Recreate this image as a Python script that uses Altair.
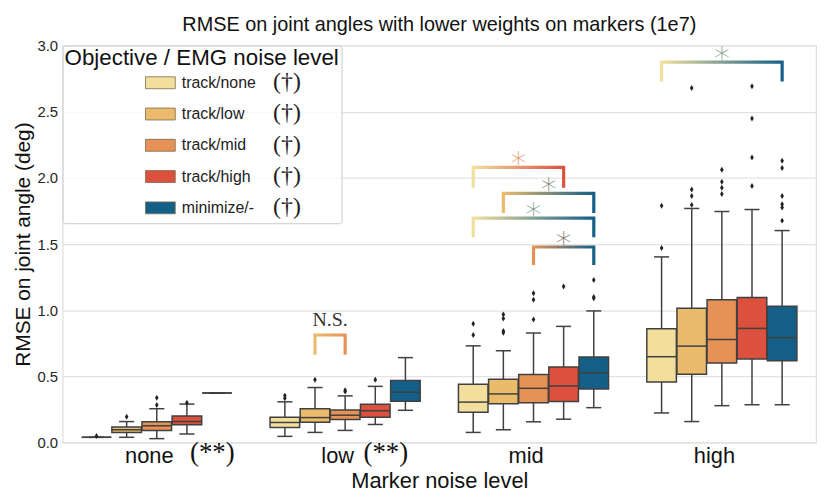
import json
import altair as alt
import pandas as pd

# ---------------- data ----------------
levels = ["none", "low", "mid", "high"]
series = ["track/none", "track/low", "track/mid", "track/high", "minimize/-"]
colors = ["#f2df9d", "#ebbb6c", "#e69256", "#db513d", "#145f88"]

whisker_low = {
    "none": [0.040, 0.040, 0.030, 0.065, 0.375],
    "low":  [0.047, 0.077, 0.092, 0.137, 0.244],
    "mid":  [0.077, 0.097, 0.157, 0.177, 0.264],
    "high": [0.224, 0.159, 0.279, 0.286, 0.286],
}
q1 = {
    "none": [0.040, 0.077, 0.092, 0.134, 0.375],
    "low":  [0.114, 0.154, 0.174, 0.192, 0.313],
    "mid":  [0.229, 0.293, 0.301, 0.311, 0.405],
    "high": [0.458, 0.517, 0.602, 0.632, 0.619],
}
median = {
    "none": [0.040, 0.097, 0.127, 0.159, 0.375],
    "low":  [0.152, 0.189, 0.207, 0.241, 0.381],
    "mid":  [0.306, 0.368, 0.410, 0.428, 0.528],
    "high": [0.649, 0.729, 0.779, 0.863, 0.793],
}
q3 = {
    "none": [0.040, 0.117, 0.157, 0.201, 0.375],
    "low":  [0.192, 0.256, 0.246, 0.289, 0.470],
    "mid":  [0.440, 0.478, 0.515, 0.572, 0.647],
    "high": [0.861, 1.015, 1.080, 1.097, 1.030],
}
whisker_high = {
    "none": [0.040, 0.159, 0.256, 0.291, 0.375],
    "low":  [0.308, 0.416, 0.353, 0.425, 0.642],
    "mid":  [0.731, 0.694, 0.828, 0.878, 0.995],
    "high": [1.403, 1.769, 1.746, 1.761, 1.602],
}
outliers = {
    "none": [[0.050], [0.196], [0.284, 0.338], [0.301], []],
    "low":  [[0.335, 0.355], [0.475], [0.385, 0.396], [0.475], []],
    "mid":  [[0.813, 0.898], [0.830, 0.843, 0.938, 0.968], [0.930, 1.080, 1.129],
             [1.179], [1.090, 1.100, 1.229]],
    "high": [[1.470, 1.789], [1.796, 1.863, 1.913, 2.679], [1.878, 1.925, 1.970, 2.062],
             [1.938, 2.154, 2.448, 2.692], [1.677, 1.776, 1.801, 1.863, 2.075, 2.129]],
}

# significance brackets
br_level = ["mid", "mid", "mid", "mid", "high", "low"]
br_from = ["track/none", "track/low", "track/none", "track/mid", "track/none", "track/low"]
br_to = ["track/high", "minimize/-", "minimize/-", "minimize/-", "minimize/-", "track/mid"]
br_top = [2.080, 1.883, 1.696, 1.478, 2.875, 0.813]
br_foot = [1.925, 1.734, 1.552, 1.341, 2.729, 0.664]
br_label = ["*", "*", "*", "*", "*", "N.S."]

star_level = ["none", "low"]
star_text = ["(**)", "(**)"]

dagger_text = "(†)"

title_text = "RMSE on joint angles with lower weights on markers (1e7)"
x_title = "Marker noise level"
y_title = "RMSE on joint angle (deg)"
legend_title = "Objective / EMG noise level"

# ---------------- layout helpers ----------------
GROUP = 0.8
SLOT = GROUP / len(series)


def xpos(level, s):
    return levels.index(level) + (series.index(s) - (len(series) - 1) / 2) * SLOT


rows = []
orows = []
for lev in levels:
    for j, s in enumerate(series):
        p = xpos(lev, s)
        rows.append(dict(level=lev, series=s, dag=s, pos=p,
                         lo=whisker_low[lev][j], q1=q1[lev][j], med=median[lev][j],
                         q3=q3[lev][j], hi=whisker_high[lev][j]))
        for v in outliers[lev][j]:
            orows.append(dict(level=lev, series=s, pos=p, val=v))
stats = pd.DataFrame(rows)
outl = pd.DataFrame(orows)


def hex2rgb(h):
    h = h.lstrip("#")
    return tuple(int(h[i:i + 2], 16) for i in (0, 2, 4))


def mix(a, b):
    ra, rb = hex2rgb(a), hex2rgb(b)
    return "#" + "".join(f"{(x + y) // 2:02x}" for x, y in zip(ra, rb))


br_rows = []
br_txt = []
for k in range(len(br_level)):
    x0 = xpos(br_level[k], br_from[k])
    x1 = xpos(br_level[k], br_to[k])
    for o, (xx, yy) in enumerate([(x0, br_foot[k]), (x0, br_top[k]), (x1, br_top[k]), (x1, br_foot[k])]):
        br_rows.append(dict(bid=k, order=o, pos=xx, val=yy))
    c0 = colors[series.index(br_from[k])]
    c1 = colors[series.index(br_to[k])]
    br_txt.append(dict(bid=k, pos=(x0 + x1) / 2, val=br_top[k], label=br_label[k],
                       tcolor=mix(c0, c1) if br_label[k] == "*" else "#333333"))
br_df = pd.DataFrame(br_rows)
br_txt_df = pd.DataFrame(br_txt)

star_df = pd.DataFrame(dict(level=star_level, text=star_text,
                            pos=[levels.index(l) for l in star_level], val=[0.0] * len(star_level)))

# ---------------- scales / axes ----------------
SANS = "Liberation Sans"
SERIF = "Liberation Serif"
LINE = "#404040"

xscale = alt.Scale(domain=[-0.5, len(levels) - 0.5], nice=False, zero=False)
yscale = alt.Scale(domain=[0, 3], nice=False, zero=False)
xaxis = alt.Axis(values=list(range(len(levels))),
                 labelExpr=json.dumps(levels) + "[datum.value]",
                 grid=False, domain=False, ticks=False,
                 labelFont=SANS, labelFontSize=22, labelColor="#111111",
                 labelPadding=3, labelOffset=-8,
                 titleFont=SANS, titleFontSize=22, titleFontWeight="normal",
                 titleColor="#111111", titlePadding=4)
yaxis = alt.Axis(values=[0, 0.5, 1, 1.5, 2, 2.5, 3], format=".1f",
                 grid=True, gridColor="#e3e3e3", gridWidth=1.2,
                 domain=False, ticks=False,
                 labelFont=SANS, labelFontSize=15, labelColor="#262626", labelPadding=5,
                 titleFont=SANS, titleFontSize=21, titleFontWeight="normal",
                 titleColor="#111111", titlePadding=3)


def X(f):
    return alt.X(f, scale=xscale, axis=xaxis, title=x_title)


def Y(f):
    return alt.Y(f, scale=yscale, axis=yaxis, title=y_title)


base = alt.Chart(stats)

whiskers = base.mark_rule(color=LINE, strokeWidth=1.5).encode(
    x=X("pos:Q"), y=Y("lo:Q"), y2="hi:Q")

caps_lo = base.transform_calculate(cl="datum.pos - 0.04", cr="datum.pos + 0.04").mark_rule(
    color=LINE, strokeWidth=1.5).encode(x=X("cl:Q"), x2="cr:Q", y=Y("lo:Q"))
caps_hi = base.transform_calculate(cl="datum.pos - 0.04", cr="datum.pos + 0.04").mark_rule(
    color=LINE, strokeWidth=1.5).encode(x=X("cl:Q"), x2="cr:Q", y=Y("hi:Q"))

legend = alt.Legend(
    title=legend_title, orient="top-left", offset=0, padding=2,
    fillColor="rgba(255,255,255,0.8)", strokeColor="#cccccc", cornerRadius=3,
    titleFont=SANS, titleFontSize=22.5, titleFontWeight="normal", titleColor="#111111",
    titlePadding=0, titleLimit=400,
    labelFont=SANS, labelFontSize=16, labelColor="#222222",
    symbolType="M-1,-0.4H1V0.4H-1Z", symbolSize=900,
    symbolStrokeColor="#7a6a50", symbolStrokeWidth=0.8,
    symbolOffset=81, labelOffset=6, clipHeight=26, rowPadding=5.5)

boxes = base.transform_calculate(bl="datum.pos - 0.0785", br="datum.pos + 0.0785").mark_bar(
    stroke=LINE, strokeWidth=1.5, opacity=1).encode(
    x=X("bl:Q"), x2="br:Q", y=Y("q1:Q"), y2="q3:Q",
    color=alt.Color("series:N", scale=alt.Scale(domain=series, range=colors), legend=legend))

medians = base.transform_calculate(bl="datum.pos - 0.0785", br="datum.pos + 0.0785").mark_rule(
    color=LINE, strokeWidth=1.5).encode(x=X("bl:Q"), x2="br:Q", y=Y("med:Q"))

points = alt.Chart(outl).mark_point(
    shape="M0,-1L0.6,0L0,1L-0.6,0Z", size=36, filled=True, color="#222222", opacity=1).encode(
    x=X("pos:Q"), y=Y("val:Q"))

layers = [whiskers, caps_lo, caps_hi, boxes, medians, points]

for k in range(len(br_level)):
    c0 = colors[series.index(br_from[k])]
    c1 = colors[series.index(br_to[k])]
    grad = alt.LinearGradient(gradient="linear",
                              stops=[alt.GradientStop(color=c0, offset=0),
                                     alt.GradientStop(color=c1, offset=1)],
                              x1=0, x2=1, y1=0, y2=0)
    layers.append(alt.Chart(br_df).transform_filter(alt.datum.bid == k).mark_line(
        stroke=grad, strokeWidth=3.2, strokeCap="butt", strokeJoin="miter").encode(
        x=X("pos:Q"), y=Y("val:Q"), order="order:Q"))

stars = alt.Chart(br_txt_df).transform_filter(alt.datum.label == "*").mark_text(
    font="DejaVu Sans", fontSize=32, fontWeight=200, baseline="alphabetic", dy=7).encode(
    x=X("pos:Q"), y=Y("val:Q"), text="label:N", color=alt.Color("tcolor:N", scale=None))
ns = alt.Chart(br_txt_df).transform_filter(alt.datum.label != "*").mark_text(
    font=SERIF, fontSize=20, baseline="alphabetic", dy=-9).encode(
    x=X("pos:Q"), y=Y("val:Q"), text="label:N", color=alt.Color("tcolor:N", scale=None))
layers += [stars, ns]

star_dx = {"none": 56, "low": 41}
for lev in star_level:
    layers.append(alt.Chart(star_df).transform_filter(alt.datum.level == lev).mark_text(
        font=SERIF, fontSize=27, baseline="alphabetic", dy=19, dx=star_dx[lev],
        color="#111111").encode(x=X("pos:Q"), y=Y("val:Q"), text="text:N"))

dagger = base.mark_point(opacity=0).encode(
    x=X("pos:Q"), y=Y("med:Q"),
    shape=alt.Shape("dag:N", legend=alt.Legend(
        title=None, orient="none", legendX=176, legendY=24, padding=0,
        labelExpr=json.dumps(dagger_text), labelFont=SERIF, labelFontSize=24,
        labelColor="#222222", symbolOpacity=0, symbolSize=900,
        clipHeight=26, rowPadding=5.5, labelOffset=4)))
layers.append(dagger)

chart = alt.layer(*layers).properties(
    width=759, height=400,
    title=alt.TitleParams(title_text, font=SANS, fontSize=20, fontWeight="normal",
                          color="#111111", anchor="middle", offset=4),
    background="white",
).configure_view(stroke="#dddddd", strokeWidth=1.2)

chart.save("out.html", embed_options={"renderer": "svg", "actions": False})
